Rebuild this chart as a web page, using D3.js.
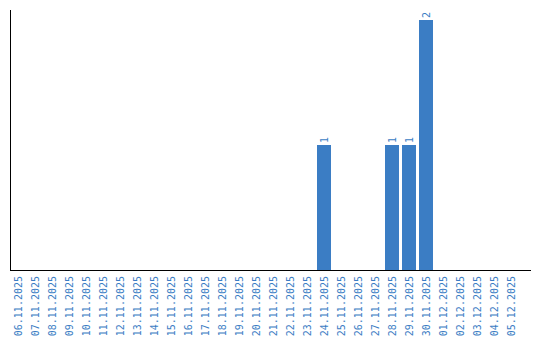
<!DOCTYPE html>
<html><head><meta charset="utf-8">
<script src="https://cdn.jsdelivr.net/npm/d3@7"></script>
<style>body{margin:0;background:#fff}svg{display:block}
text{font-family:"DejaVu Sans Mono",monospace;font-size:10px}</style>
</head><body>
<svg id="c" width="540" height="340"></svg>
<script>
const dates = ["06.11.2025","07.11.2025","08.11.2025","09.11.2025","10.11.2025","11.11.2025","12.11.2025","13.11.2025","14.11.2025","15.11.2025","16.11.2025","17.11.2025","18.11.2025","19.11.2025","20.11.2025","21.11.2025","22.11.2025","23.11.2025","24.11.2025","25.11.2025","26.11.2025","27.11.2025","28.11.2025","29.11.2025","30.11.2025","01.12.2025","02.12.2025","03.12.2025","04.12.2025","05.12.2025"];
const counts = [0,0,0,0,0,0,0,0,0,0,0,0,0,0,0,0,0,0,1,0,0,0,1,1,2,0,0,0,0,0];

const svg = d3.select("#c");
const color = "#3b7dc4";
const x0 = 9.5, step = 17;
const x = d3.scaleBand().domain(dates).range([x0, x0 + step*dates.length]).padding(0);
const y = d3.scaleLinear().domain([0, 2]).range([270, 20]);
const data = dates.map((d,i)=>({d, v:counts[i]})).filter(o=>o.v>0);

svg.selectAll("rect.bar").data(data)
  .enter().append("rect")
  .attr("x", o => x(o.d) + 1.5)
  .attr("width", 14)
  .attr("y", o => y(o.v))
  .attr("height", o => y(0) - y(o.v))
  .attr("fill", color);

svg.selectAll("text.val").data(data)
  .enter().append("text")
  .attr("transform", o => `translate(${x(o.d)+1.5+7+3.5},${y(o.v)-2}) rotate(-90)`)
  .attr("fill", color)
  .text(o => o.v);

svg.append("line").attr("x1",10.5).attr("x2",10.5).attr("y1",10).attr("y2",270.5).attr("stroke","#000").attr("stroke-width",1);
svg.append("line").attr("x1",10).attr("x2",531).attr("y1",270.5).attr("y2",270.5).attr("stroke","#000").attr("stroke-width",1);

svg.selectAll("text.lbl").data(dates).enter().append("text")
  .attr("transform", d => `translate(${x(d)+1.5+7+3.5},276) rotate(-90)`)
  .attr("text-anchor","end")
  .attr("fill", color)
  .text(d => d);
</script>
</body></html>
